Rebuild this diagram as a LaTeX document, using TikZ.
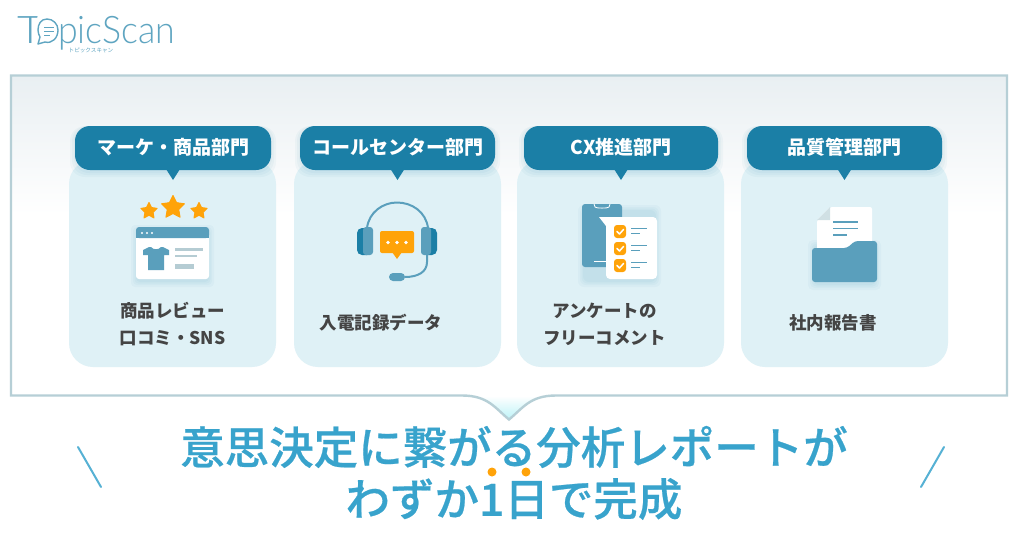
\documentclass[tikz,border=0pt]{standalone}
\usepackage{fontspec}
\setmainfont{Noto Sans CJK JP}
\newfontfamily\logofont{Lato Light}
\newfontfamily\headfont[FakeBold=0.5]{Noto Sans CJK JP Medium}
\usetikzlibrary{shapes.geometric}
\definecolor{framec}{HTML}{B6CFD6}
\definecolor{cardc}{HTML}{DFF1F6}
\definecolor{tabc}{HTML}{1B7FA6}
\definecolor{iconc}{HTML}{5A9FBC}
\definecolor{orangec}{HTML}{FFA309}
\definecolor{headc}{HTML}{38A3CC}
\definecolor{labelc}{HTML}{444444}
\definecolor{greyc}{HTML}{B5CCD3}
\definecolor{logoc}{HTML}{5FA5C1}
\definecolor{panelc}{HTML}{E9EFF2}
\tikzset{
  x=1pt,y=-1pt,
  cardbox/.style={fill=cardc,rounded corners=24pt},
  tabbox/.style={fill=tabc,rounded corners=15pt},
  tabtext/.style={text=white,font=\fontsize{19}{22}\selectfont\bfseries,inner sep=0pt},
  labeltext/.style={text=labelc,font=\fontsize{17.5}{27}\selectfont\bfseries,inner sep=0pt,align=center},
  headtext/.style={text=headc,font=\fontsize{44.5}{50}\headfont,inner sep=0pt},
  startag/.style={star,star points=5,star point ratio=2,fill=orangec,draw=orangec,line width=1pt,line join=round,inner sep=0pt},
  shadowfill/.style={fill=#1,opacity=0.035,draw=none},
  checkbox/.style={fill=orangec,rounded corners=3pt},
  tick/.style={draw=white,line width=1.5pt,line cap=round,line join=round},
  thinline/.style={draw=iconc,line width=1.6pt},
  slash/.style={draw=headc!85,line width=2pt,line cap=round},
  logotext/.style={text=logoc,font=\fontsize{38}{38}\logofont,anchor=base west,inner sep=0pt},
}
\newcommand{\softshadow}[5]{% x0 y0 x1 y1 radius
  \foreach \s in {1,2.5,4,6}{
    \fill[shadowfill=tabc,rounded corners=#5pt] (#1-\s,#2-\s+3) rectangle (#3+\s,#4+\s+3);
  }}
\newcommand{\deptcard}[6]{% name x0 x1 tabx0 tabx1 text
  \fill[cardbox] (#2,160) rectangle (#3,367);
  \foreach \s in {1,3,5}{
    \fill[fill=tabc,opacity=0.04,rounded corners=15pt] (#4-\s,126) rectangle (#5+\s,170+\s+2);
  }
  \fill[tabbox] (#4,126) rectangle (#5,170);
  \fill[tabc] ({(#4+#5)/2-7},169) -- ({(#4+#5)/2+7},169) -- ({(#4+#5)/2},180) -- cycle;
  \node[tabtext] (#1) at ({(#4+#5)/2},147.5) {#6};
}
\begin{document}
\begin{tikzpicture}
\useasboundingbox (0,0) rectangle (1024,554);
\fill[white] (0,0) rectangle (1024,554);

% logo
\node[logotext,xscale=1.2] (logoT) at (17,43) {T};
\node[logotext,xscale=0.94] (logoRest) at (58,43) {picScan};
\fill[white] (47,19) circle (10);
\draw[logoc,line width=1.4pt,line join=round] (47,19) .. controls (41,19) and (38,24) .. (38,30) .. controls (38,33) and (39,35) .. (40,37) -- (38,44) -- (45,42) .. controls (52,44) and (58,38) .. (58,30) .. controls (58,24) and (53,19) .. (47,19) -- cycle;
\draw[logoc,line width=0.9pt] (44,27) -- (54,27) (44,31) -- (54,31) (44,35) -- (50,35);
\node[text=logoc,font=\fontsize{5.6}{6}\selectfont,inner sep=0pt] (logoSub) at (91,50) {トピックスキャン};

% panel
\shade[top color=panelc,bottom color=white] (11,76) rectangle (1007,215);
\shade[top color=white,bottom color=cardc!85!cyan] (462,396) .. controls (488,396) and (495,408) .. (509,419) .. controls (523,408) and (530,396) .. (556,396) -- cycle;
\draw[framec,line width=2.4pt,line join=miter] (11,75.5) -- (1007,75.5) -- (1007,395.5) -- (556,395.5) .. controls (530,395.5) and (523,408) .. (509,419.5) .. controls (495,408) and (488,395.5) .. (462,395.5) -- (11,395.5) -- cycle;

% cards
\deptcard{tabA}{69}{276}{75}{271}{マーケ・商品部門}
\deptcard{tabB}{294}{501}{300}{495}{コールセンター部門}
\deptcard{tabC}{517}{724}{524}{718}{CX推進部門}
\deptcard{tabD}{741}{948}{747}{942}{品質管理部門}

% icon 1
\node[startag,minimum size=17pt] (starL) at (149,211) {};
\node[startag,minimum size=24pt] (starM) at (173,207.5) {};
\node[startag,minimum size=17pt] (starR) at (199,211) {};
\softshadow{137}{228}{208}{278}{4}
\fill[white,rounded corners=3pt] (136,227) rectangle (209,279);
\fill[iconc,rounded corners=3pt] (136,227) rectangle (209,238);
\fill[iconc] (136,233) rectangle (209,238);
\foreach \x in {142,147,152}{\fill[white] (\x,233) circle (1.2);}
\fill[iconc] (149,247) -- (151,247) .. controls (153,250) and (159,250) .. (161,247) -- (163,247) -- (169,250) -- (169,255) -- (164,255) -- (164,270) -- (148,270) -- (148,255) -- (143,255) -- (143,250) -- cycle;
\fill[greyc] (175,248) rectangle (203,250.5);
\fill[greyc] (175,254.5) rectangle (197,257);
\fill[greyc] (175,264) rectangle (194,269);

% icon 2
\draw[iconc,line width=2pt] (367,228) .. controls (369,212) and (383,202.5) .. (397,202.5) .. controls (412,202.5) and (426,212) .. (428,228);
\fill[tabc,rounded corners=5pt] (357,228) rectangle (372,255);
\fill[iconc,rounded corners=3pt] (363,227) rectangle (373,255);
\fill[tabc,rounded corners=5pt] (422,228) rectangle (437,255);
\fill[iconc,rounded corners=3pt] (421,227) rectangle (431,255);
\fill[orangec,rounded corners=2pt] (380,231) rectangle (414,253);
\fill[orangec] (392,252) -- (402,252) -- (397,259) -- cycle;
\foreach \x in {388,397,406}{\fill[white] (\x,242.5) circle (1.8);}
\draw[iconc,line width=2pt] (427,255) -- (427,262) .. controls (427,272) and (418,277) .. (405,277);
\fill[iconc,rounded corners=4pt] (389,273) rectangle (405,281);

% icon 3
\softshadow{584}{208}{655}{278}{6}
\fill[iconc,rounded corners=3pt] (582,204) rectangle (622,267);
\draw[white,line width=0.8pt] (594,204) -- (595,207) .. controls (596,208.5) and (608,208.5) .. (609,207) -- (610,204);
\draw[white,line width=1pt] (594,261) -- (606,261);
\fill[white,rounded corners=4pt] (606,217) rectangle (657,279);
\fill[white] (599,217) -- (612,217) -- (606,226) -- cycle;
\foreach \y in {225,242,259}{
  \fill[checkbox] (614,\y) rectangle (626,\y+13);
  \draw[tick] (617,\y+6.5) -- (619.5,\y+9) -- (623.5,\y+4.5);
  \draw[thinline] (631,\y+3.5) -- (647,\y+3.5);
  \draw[thinline] (631,\y+8.5) -- (640,\y+8.5);
}

% icon 4
\softshadow{814}{243}{875}{281}{5}
\fill[white,rounded corners=2pt] (830,207) -- (872,207) -- (872,250) -- (817,250) -- (817,220) -- cycle;
\fill[framec!65!white] (830,207) -- (830,220) -- (817,220) -- cycle;
\draw[iconc,line width=1.6pt] (833,222) -- (858,222) (833,228.5) -- (858,228.5) (833,235) -- (847,235);
\fill[iconc,rounded corners=3pt] (812,248) -- (847,248) -- (855,241) -- (877,241) -- (877,282) -- (812,282) -- cycle;

% labels
\node[labeltext] (labA) at (172.5,324) {商品レビュー\\口コミ・SNS};
\node[labeltext] (labB) at (381,322.5) {入電記録データ};
\node[labeltext] (labC) at (604.5,324) {アンケートの\\フリーコメント};
\node[labeltext] (labD) at (833,322.5) {社内報告書};

% headline
\node[headtext] (headA) at (514,447) {意思決定に繋がる分析レポートが};
\node[headtext] (headB) at (514,499) {わずか1日で完成};
\fill[orangec] (492,472) circle (4.5);
\fill[orangec] (526,472) circle (4.5);
\coordinate (slA0) at (78,447); \coordinate (slA1) at (101,487);
\coordinate (slB0) at (944,447); \coordinate (slB1) at (921,487);
\draw[slash] (slA0) -- (slA1);
\draw[slash] (slB0) -- (slB1);
\end{tikzpicture}
\end{document}
